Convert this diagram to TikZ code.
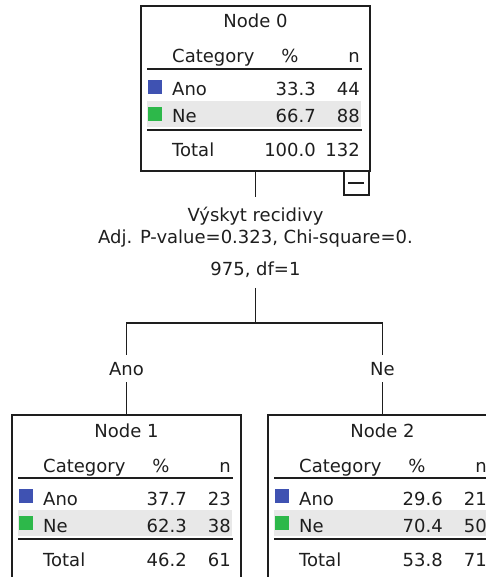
\documentclass[tikz,border=0pt]{standalone}
\usepackage{fontspec}
\setmainfont{DejaVu Sans}
\usetikzlibrary{positioning}

\definecolor{anoblue}{RGB}{63,82,178}
\definecolor{negreen}{RGB}{45,184,74}
\definecolor{bandgray}{RGB}{232,232,232}
\definecolor{inkgray}{RGB}{30,30,30}

\tikzset{
  tbox/.style={draw=inkgray, line width=1.8pt, minimum width=229pt, minimum height=165pt,
    anchor=north west, inner sep=0pt, outer sep=0pt},
  txt/.style={inner sep=0pt, text=inkgray},
  rule/.style={draw=inkgray, line width=1.8pt},
  edge/.style={draw=inkgray, line width=1.8pt},
  lbl/.style={txt, inner ysep=7pt, text height=13pt, text depth=0pt}
}

% one summary table: name, title, Ano %, Ano n, Ne %, Ne n, total %, total n
\newcommand{\statbox}[8]{%
  \fill[bandgray] (6,95) rectangle (220,121);
  \node[tbox] (#1) at (0,0) {};
  \node[txt, anchor=base] (#1-title) at (114.5,22) {#2};
  \node[txt, anchor=base west] (#1-cat) at (31,57) {Category};
  \node[txt, anchor=base] (#1-pct) at (149,57) {\%};
  \node[txt, anchor=base east] (#1-n) at (219,57) {n};
  \draw[rule] (6,63) -- (221,63);
  \fill[anoblue] (7,74) rectangle (21,88);
  \node[txt, anchor=base west] (#1-ano) at (31,90) {Ano};
  \node[txt, anchor=base east] (#1-anop) at (175,90) {#3};
  \node[txt, anchor=base east] (#1-anon) at (219,90) {#4};
  \fill[negreen] (7,101) rectangle (21,115);
  \node[txt, anchor=base west] (#1-ne) at (31,117) {Ne};
  \node[txt, anchor=base east] (#1-nep) at (175,117) {#5};
  \node[txt, anchor=base east] (#1-nen) at (219,117) {#6};
  \draw[rule] (6,124) -- (221,124);
  \node[txt, anchor=base west] (#1-tot) at (31,151) {Total};
  \node[txt, anchor=base east] (#1-totp) at (175,151) {#7};
  \node[txt, anchor=base east] (#1-totn) at (219,151) {#8};
}

\begin{document}
\begin{tikzpicture}[x=1pt, y=-1pt, font=\fontsize{18}{22}\selectfont]
    \useasboundingbox (0,0) rectangle (486,577);
    \clip (0,0) rectangle (486,577);

    % root
    \begin{scope}[shift={(141,6)}]
        \statbox{n0}{Node 0}{33.3}{44}{66.7}{88}{100.0}{132}
        \draw[edge] (203,165) rectangle (228,189);
        \draw[edge] (207,177) -- (223,177);
    \end{scope}

    % children
    \begin{scope}[shift={(12,415)}]
        \statbox{n1}{Node 1}{37.7}{23}{62.3}{38}{46.2}{61}
    \end{scope}
    \begin{scope}[shift={(268,415)}]
        \statbox{n2}{Node 2}{29.6}{21}{70.4}{50}{53.8}{71}
    \end{scope}

    % split
    \node[txt, inner ysep=10pt, align=center, anchor=north] (split) at (n0.south |- 0,197)
        {Výskyt recidivy\\ Adj. P-value=0.323, Chi-square=0.\\[10pt] 975, df=1};
    \coordinate (fork) at (n0.south |- 0,323);

    % branch labels
    \node[lbl] (lano) at (n1.north |- 0,368.5) {Ano};
    \node[lbl] (lne) at (n2.north |- 0,368.5) {Ne};

    \draw[edge] (n0.south) -- (split.north);
    \draw[edge] (split.south) -- (fork);
    \draw[edge] (lano.north) |- (fork) -| (lne.north);
    \draw[edge] (lano.south) -- (n1.north);
    \draw[edge] (lne.south) -- (n2.north);
\end{tikzpicture}
\end{document}
